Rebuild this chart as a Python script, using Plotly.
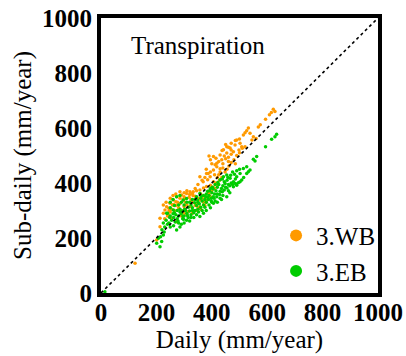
import plotly.graph_objects as go

series_names = ["3.WB", "3.EB"]
series_colors = ["#FF9A00", "#00CC00"]
axis_ticks = [0, 200, 400, 600, 800, 1000]
panel_title = "Transpiration"
x_title = "Daily (mm/year)"
y_title = "Sub-daily (mm/year)"

# (daily, sub-daily) pairs
wb_points = [
    (622,668),(628,660),(615,656),(608,648),(594,632),(575,612),(568,604),(532,600),(526,590),(520,583),
    (538,581),(514,575),(550,568),(560,562),(545,556),(490,556),(502,545),(484,538),(520,532),(510,526),
    (466,527),(454,532),(442,521),(478,514),(454,509),(470,505),(430,502),(445,498),(460,494),(436,485),
    (418,472),(406,496),(390,498),(425,478),(412,466),(440,470),(418,459),(430,452),(406,447),(395,440),
    (381,435),(394,423),(410,430),(357,423),(420,420),(369,405),(406,405),(385,412),(381,387),(395,392),
    (357,375),(370,382),(333,368),(345,372),(309,362),(320,358),(291,356),(300,350),(273,350),(285,345),
    (303,344),(261,338),(270,332),(249,326),(258,320),(237,314),(245,308),(231,302),(225,290),(243,284),
    (255,272),(273,259),(213,272),(213,241),(201,193),(123,108),
    (345,326),(357,338),(321,314),(381,338),(357,314),(330,330),(340,318),(365,345),(375,352),(390,360),
    (400,372),(410,380),(420,395),(395,350),(380,330),(350,310),(335,300),(315,296),(300,290),(290,300),
    (280,310),(265,300),(250,295),(310,320),(325,340),(340,352),(360,360),(370,330),(388,368),(405,385),
    (415,400),(428,410),(436,420),(448,440),(455,450),(462,462),(470,475),(480,485),(490,500),(500,510),
    (498,520),(508,532),(485,470),(460,478),(450,488),(430,440),(440,455),(425,430),(300,315),(305,330),
    (285,325),(270,318),(255,305),(240,280),(230,270),(350,345),(332,355),(318,348),(296,338),(276,330),
    (262,322),(246,300),
    (285,368),(321,368),(340,380),(300,365),(270,360),(250,345),(235,330),(225,320),(260,355),(310,372),
    (330,362),(387,435),(375,420),(365,410),(350,395),(380,450),(400,470),(415,490),(395,485),(450,540),
    (470,545),(485,555),(500,560),(460,530),(437,518),(470,520),(330,290),(345,300),(360,305),(375,318),
    (310,285),(290,280),
]

eb_points = [
    (634,577),(628,568),(616,559),(594,532),(562,496),(550,486),(556,480),(526,459),(538,447),(514,453),
    (532,441),(502,435),(490,423),(508,411),(478,405),(496,401),(466,417),(454,429),(442,423),(455,410),
    (470,400),(485,415),(460,395),(445,405),(430,412),(440,390),(425,395),(450,385),(435,380),(420,385),
    (415,372),(405,378),(430,370),(410,360),(400,365),(390,355),(420,360),(398,345),(385,348),(375,340),
    (405,350),(380,330),(365,335),(370,320),(355,325),(360,312),(345,318),(350,305),(340,300),(330,310),
    (335,292),(320,298),(325,285),(310,290),(300,280),(315,275),(305,300),(290,288),(295,270),(285,295),
    (280,280),(270,285),(275,270),(262,275),(255,265),(250,280),(265,292),(240,290),(237,290),(261,302),
    (297,338),(309,344),(357,362),(345,350),(330,340),(280,320),(290,330),(310,330),(250,310),(265,318),
    (225,255),(235,265),(230,240),(201,181),(213,168),(219,187),(207,199),(225,211),(215,205),(14,5),
    (380,360),(392,372),(402,385),(412,395),(422,402),(438,415),(448,398),(458,420),(468,428),(475,440),
    (482,432),(490,445),(500,450),(395,380),(385,370),(370,355),(360,345),(348,338),(338,328),(325,320),
    (315,312),(302,305),(295,298),(285,305),(275,300),(260,288),(248,275),(300,320),(320,330),(340,340),
    (362,352),(378,350),(388,340),(398,335),(408,345),(418,350),(428,358),(438,368),(445,375),(455,382),
    (465,390),(475,395),(485,398),(350,330),(330,300),(312,282),(296,278),(278,262),(268,258),(245,255),
    (273,229),(285,240),(300,255),(309,265),(320,262),(335,275),(357,278),(370,290),(380,300),(395,310),
    (406,326),(420,330),(435,340),(454,350),(465,365),(478,386),(490,392),(502,405),(515,420),(526,435),
    (290,250),(345,285),(365,300),(390,320),(412,335),(440,355),(460,372),(280,255),(298,268),(325,275),
    (352,295),(375,312),(400,330),(430,345),(250,240),(240,250),(262,245),(220,230),(228,222),
    (273,350),(285,355),(250,330),(260,340),
]

one_to_one = [0, 1000]

FONT = "Liberation Serif, Times New Roman, serif"

fig = go.Figure()

for name, color, pts in zip(series_names, series_colors, [wb_points, eb_points]):
    fig.add_trace(go.Scatter(
        x=[p[0] for p in pts], y=[p[1] for p in pts],
        mode="markers", name=name,
        marker=dict(color=color, size=3.5, line=dict(width=0)),
    ))

fig.add_trace(go.Scatter(
    x=one_to_one, y=one_to_one, mode="lines",
    line=dict(color="black", width=1.6, dash="dot"),
    showlegend=False, hoverinfo="skip",
))

fig.add_annotation(
    x=350, y=900, xref="x", yref="y", text=panel_title, showarrow=False,
    font=dict(family=FONT, size=25, color="black"),
)

axis_common = dict(
    range=[0, 1000], tickvals=axis_ticks, ticktext=[str(v) for v in axis_ticks],
    showline=True, mirror=True, linecolor="black", linewidth=4,
    showgrid=False, zeroline=False, ticks="",
    tickfont=dict(family=FONT, size=25, color="black", weight="bold"),
    automargin=False,
)

fig.update_layout(
    width=406, height=356,
    margin=dict(l=101, r=28, t=18, b=63),
    paper_bgcolor="white", plot_bgcolor="white",
    font=dict(family=FONT, color="black"),
    xaxis=dict(**axis_common, ticklabelstandoff=-6,
               title=dict(text=x_title, font=dict(family=FONT, size=25), standoff=4)),
    yaxis=dict(**axis_common,
               title=dict(text=y_title, font=dict(family=FONT, size=25), standoff=4)),
    legend=dict(
        x=0.632, y=0.145, xanchor="left", yanchor="middle",
        font=dict(family=FONT, size=25, color="black"),
        bgcolor="rgba(0,0,0,0)", itemsizing="constant",
        tracegroupgap=0, itemwidth=30,
    ),
)

fig.write_html("out.html")
